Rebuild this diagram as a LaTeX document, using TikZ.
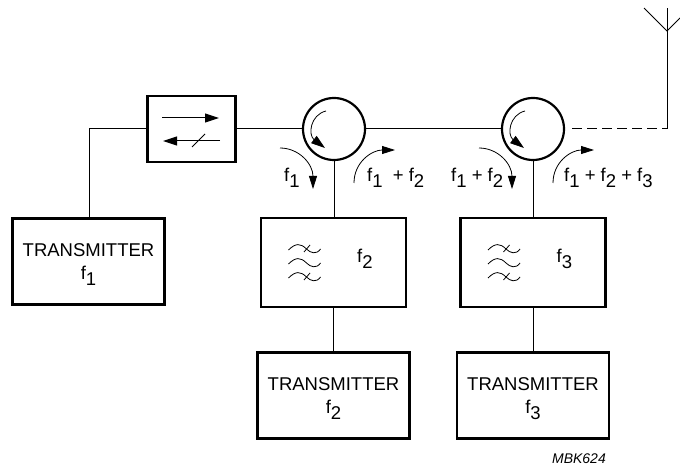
\documentclass[tikz,border=0pt]{standalone}
\usepackage{fontspec}
\setmainfont{Liberation Sans}
\usetikzlibrary{arrows.meta}
\tikzstyle{block}=[rectangle,draw,line width=2.2pt,minimum width=145pt,minimum height=89pt,inner sep=0pt,align=center,font=\fontsize{18.5}{23}\selectfont]
\tikzstyle{txbox}=[block,minimum width=152pt,minimum height=86pt]
\tikzstyle{circ}=[circle,draw,line width=2.2pt,minimum size=62pt,inner sep=0pt]
\tikzstyle{line}=[draw,line width=1pt]
\tikzstyle{flow}=[draw,line width=0.8pt,-{Triangle[length=13pt,width=8pt]}]
\tikzstyle{lab}=[inner sep=0pt,anchor=base west,font=\fontsize{18.5}{23}\selectfont]
\newcommand{\fsub}[1]{f\smash{\raisebox{-6pt}{#1}}}
\begin{document}
\begin{tikzpicture}[x=1pt,y=-1pt]
\useasboundingbox (0,0) rectangle (680,470);
\node [block,minimum width=88pt,minimum height=66pt] (iso) at (191.5,129) {};
\node [circ] (circa) at (334,129) {};
\node [circ] (circb) at (533,129) {};
\node [txbox] (txa) at (88.5,261.5) {TRANSMITTER\\\fsub{1}};
\node [block] (filta) at (333.5,262.5) {};
\node [block] (filtb) at (533,262.5) {};
\node [txbox] (txb) at (333.5,395.5) {TRANSMITTER\\\fsub{2}};
\node [txbox] (txc) at (533,395.5) {TRANSMITTER\\\fsub{3}};
\coordinate (corner) at (89,129);
\coordinate (dash) at (572,129);
\coordinate (mast) at (667,129);
\coordinate (feed) at (667,31);
\coordinate (top) at (667,8);
\coordinate (tipl) at (644,8);
\coordinate (tipr) at (680,18);
\path [line] (txa.north -| corner) -- (corner) -- (iso.west);
\path [line] (iso.east) -- (circa.west);
\path [line] (circa.east) -- (circb.west);
\path [line] (circa.south) -- (filta.north -| circa);
\path [line] (circb.south) -- (filtb.north -| circb);
\path [line] (filta.south) -- (txb.north);
\path [line] (filtb.south) -- (txc.north);
\path [line,dash pattern=on 10pt off 5pt] (dash) -- (mast);
\path [line] (mast) -- (top);
\path [line] (tipl) -- (feed) -- (tipr);
% isolator
\begin{scope}[shift={(iso.center)}]
\coordinate (fwda) at (-29.5,-11);
\coordinate (fwdb) at (27.5,-11);
\coordinate (reva) at (28.5,12);
\coordinate (revb) at (-28.5,12);
\coordinate (slasha) at (0.5,18);
\coordinate (slashb) at (13.5,5);
\draw [line width=1pt,-{Triangle[length=14pt,width=9pt]}] (fwda) -- (fwdb);
\draw [line width=1pt,-{Triangle[length=14pt,width=9pt]}] (reva) -- (revb);
\draw [line width=0.8pt] (slasha) -- (slashb);
\end{scope}
% circulators
\foreach \c in {circa,circb} {
\begin{scope}[shift={(\c.center)}]
\path [draw,line width=0.8pt,-{Triangle[length=14pt,width=9pt]}] (-8,-18) .. controls (-24,-14) and (-26,6) .. (-9,19);
\path [flow] (-54,19) .. controls (-35,19) and (-21,35) .. (-21,60);
\path [flow] (20,54) .. controls (20,33) and (38,21) .. (61,21);
\end{scope}
}
% filters
\foreach \c/\n in {filta/2,filtb/3} {
\begin{scope}[shift={(\c.center)}]
\foreach \y in {-13.5,0.5,14.5} {
\draw [line width=0.8pt] (-45,\y+1) .. controls (-38,\y-6) and (-33,\y-6) .. (-27,\y) .. controls (-23,\y+4) and (-17,\y+6) .. (-13,\y);
}
\draw [line width=0.8pt] (-29.5,-10.5) -- (-23.5,-17.5);
\draw [line width=0.8pt] (-29.5,17.5) -- (-23.5,10.5);
\node [lab] (\c-lab) at (23.5,0.5) {\fsub{\n}};
\end{scope}
}
\node [lab] (laba) at (284,182) {\fsub{1}};
\node [lab] (labb) at (367,182) {\fsub{1}\ \ + \fsub{2}};
\node [lab] (labc) at (451,182) {\fsub{1} + \fsub{2}};
\node [lab] (labd) at (564,182) {\fsub{1} + \fsub{2} + \fsub{3}};
\node [inner sep=0pt,anchor=base east,font=\fontsize{14}{16}\selectfont\itshape] (code) at (606,463) {MBK624};
\end{tikzpicture}
\end{document}
